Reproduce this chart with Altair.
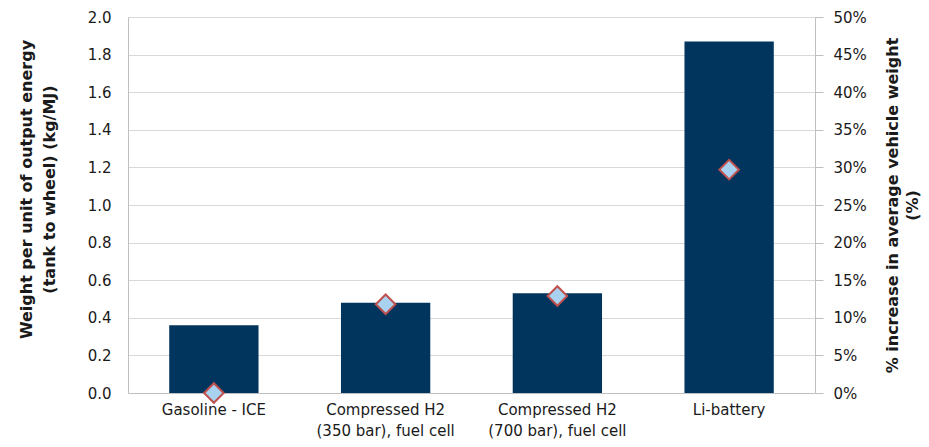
import altair as alt
import pandas as pd

categories = ["Gasoline - ICE", "Compressed H2|(350 bar), fuel cell",
              "Compressed H2|(700 bar), fuel cell", "Li-battery"]
weight_kg_per_mj = [0.36, 0.48, 0.53, 1.87]
pct_increase = [0.0, 0.118, 0.129, 0.297]

left_ticks = [0.0, 0.2, 0.4, 0.6, 0.8, 1.0, 1.2, 1.4, 1.6, 1.8, 2.0]
right_ticks = [0.0, 0.05, 0.10, 0.15, 0.20, 0.25, 0.30, 0.35, 0.40, 0.45, 0.50]

df = pd.DataFrame({"cat": categories, "w": weight_kg_per_mj, "p": pct_increase})

FONT = "DejaVu Sans"
TXT = "#1a1a1a"

x = alt.X("cat:N", sort=categories, title=None,
          scale=alt.Scale(paddingInner=0.48, paddingOuter=0.24),
          axis=alt.Axis(labelAngle=0, labelExpr="split(datum.label, '|')",
                        labelFont=FONT, labelFontSize=15, labelColor=TXT,
                        labelPadding=9, ticks=False, domainColor="#bfbfbf",
                        labelLineHeight=21))

bars = alt.Chart(df).mark_bar(color="#01355e").encode(
    x=x,
    y=alt.Y("w:Q", scale=alt.Scale(domain=[0, 2]),
            axis=alt.Axis(values=left_ticks, format=".1f", orient="left",
                          title=["Weight per unit of output energy", "(tank to wheel) (kg/MJ)"],
                          titleFont=FONT, titleFontSize=16, titleFontWeight="bold",
                          titleColor=TXT, titlePadding=30, titleLineHeight=23,
                          titleY=172,
                          labelFont=FONT, labelFontSize=15, labelColor=TXT,
                          ticks=False, labelPadding=17,
                          gridColor="#d9d9d9", domainColor="#bfbfbf"))
)

points = alt.Chart(df).mark_point(shape="diamond", filled=True, fill="#a9d1f0",
                                  stroke="#c0504d", strokeWidth=2, size=380,
                                  opacity=1).encode(
    x=x,
    y=alt.Y("p:Q", scale=alt.Scale(domain=[0, 0.5]),
            axis=alt.Axis(values=right_ticks, format=".0%", orient="right", grid=False,
                          title=["% increase in average vehicle weight", "(%)"],
                          titleFont=FONT, titleFontSize=16, titleFontWeight="bold",
                          titleColor=TXT, titleAngle=270, titlePadding=14,
                          titleLineHeight=20,
                          labelFont=FONT, labelFontSize=15, labelColor=TXT,
                          tickSize=8, tickColor="#bfbfbf", labelPadding=10,
                          domainColor="#bfbfbf"))
)

chart = alt.layer(bars, points).resolve_scale(y="independent").properties(
    width=687, height=376,
    autosize=alt.AutoSizeParams(type="none"),
    padding={"left": 120, "top": 9, "right": 106, "bottom": 46},
).configure_view(stroke=None).configure(background="white")

chart.save("out.html", embed_options={"renderer": "svg", "actions": False})
